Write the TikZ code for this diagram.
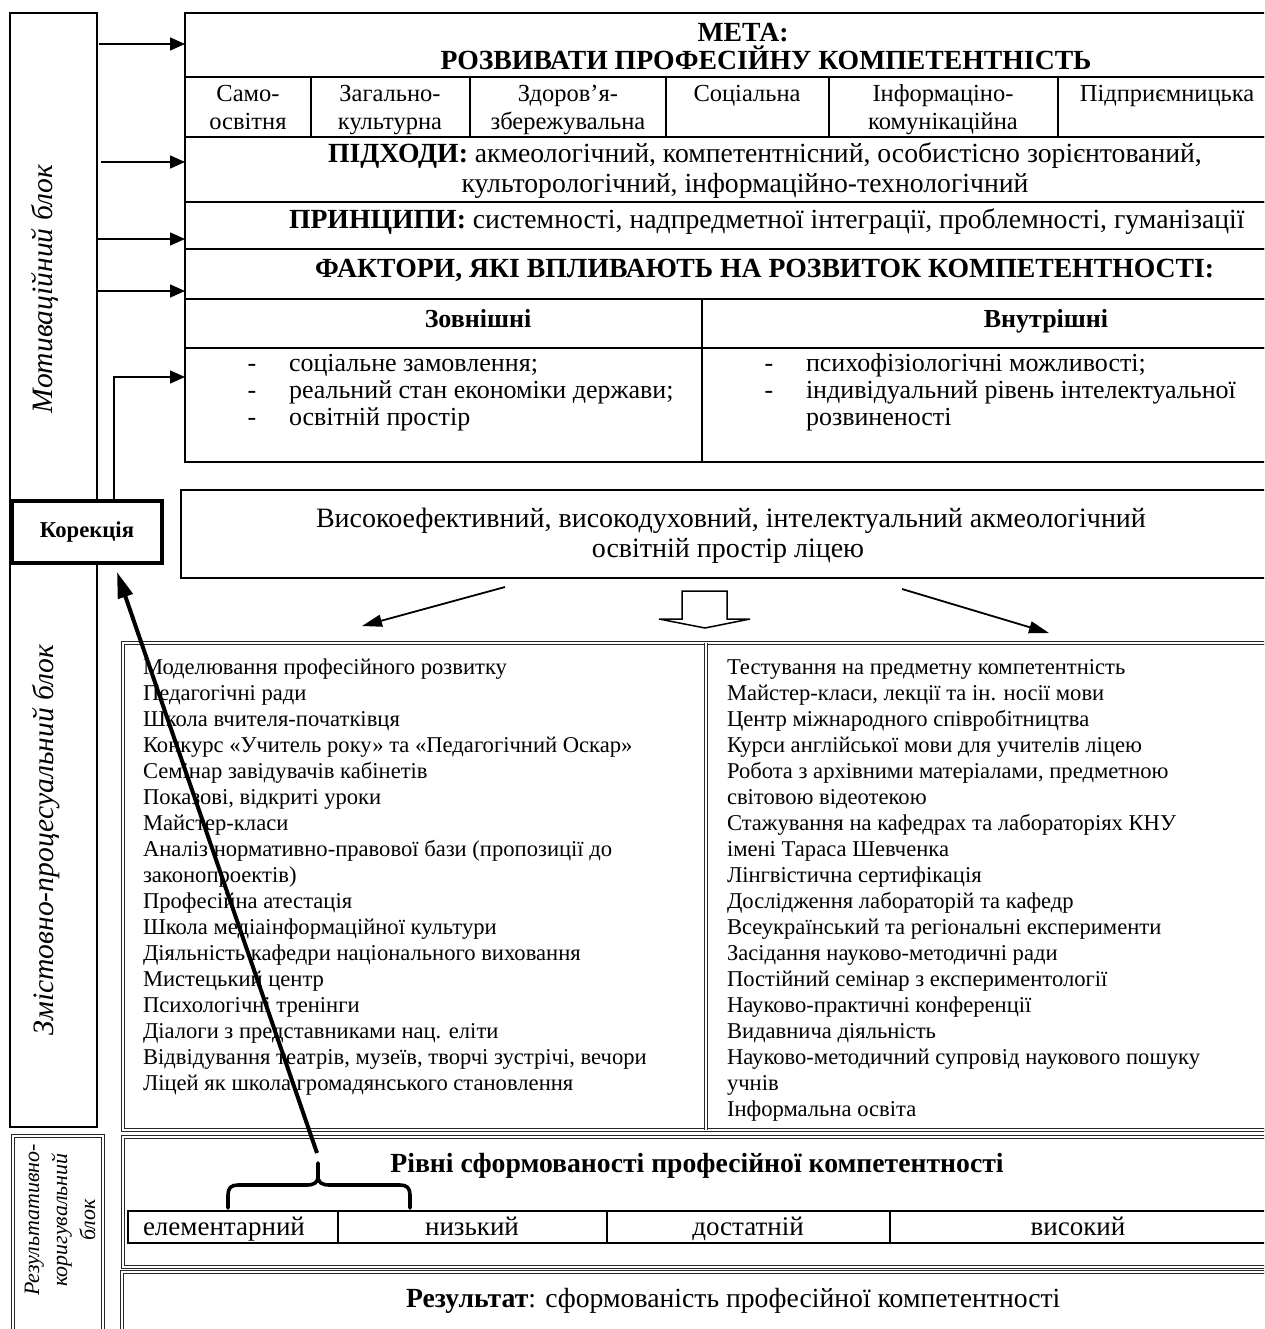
\documentclass[tikz,border=0pt]{standalone}
\usepackage{fontspec}
\setmainfont{Liberation Serif}
\usetikzlibrary{arrows.meta}
\newcommand\myfs[2]{\fontsize{#1}{#2}\selectfont}
\begin{document}
\begin{tikzpicture}[x=1pt,y=-1pt,
 bx/.style={draw=black, line width=2pt, inner sep=0pt, outer sep=0pt, anchor=north west},
 dbx/.style={draw=black!85, line width=0.9pt, double, double distance=1.3pt, inner sep=0pt, outer sep=0pt, anchor=north west},
 ln/.style={line width=2pt},
 dln/.style={draw=black!85, line width=0.9pt, double, double distance=1.3pt},
 arr/.style={line width=1.6pt, -{Triangle[length=15pt,width=13pt]}},
 darr/.style={line width=1.8pt, -{Triangle[length=20pt,width=12pt]}},
 barr/.style={line width=4pt, -{Triangle[length=26pt,width=15pt]}},
 txt/.style={inner sep=0pt, outer sep=0pt},
 cmp/.style={txt, font=\myfs{24.5}{28}, align=center, anchor=north},
 cmpone/.style={txt, font=\myfs{24.5}{28}, anchor=base},
 lst/.style={txt, font=\myfs{22.6}{26}, align=left, anchor=north west},
 fct/.style={txt, font=\myfs{26}{27}, align=left, anchor=north west},
 fdash/.style={txt, font=\myfs{26}{27}, align=center, anchor=north},
 lvl/.style={txt, font=\myfs{27}{30}, anchor=base},
 side/.style={txt, font=\itshape\myfs{29.6}{34}, rotate=90, anchor=base},
 head/.style={txt, font=\myfs{27.7}{30}},
 headb/.style={txt, font=\bfseries\myfs{27.7}{30}},
]
\useasboundingbox (0,0) rectangle (1264,1329);
\clip (0,0) rectangle (1264,1329);

% ---------- left blocks ----------
\node[bx, minimum width=87pt, minimum height=1114pt] (mot) at (10,13) {};
\node[dbx, minimum width=90pt, minimum height=250pt] (resl) at (13,1136) {};

% ---------- top table ----------
\node[bx, minimum width=1160pt, minimum height=64pt] (meta) at (185,13) {};
\node[bx, minimum width=1160pt, minimum height=60pt] (comp) at (185,77) {};
\node[bx, minimum width=1160pt, minimum height=65pt] (pidh) at (185,137) {};
\node[bx, minimum width=1160pt, minimum height=47pt] (princ) at (185,202) {};
\node[bx, minimum width=1160pt, minimum height=50pt] (fakt) at (185,249) {};
\node[bx, minimum width=1160pt, minimum height=49pt] (zh) at (185,299) {};
\node[bx, minimum width=1160pt, minimum height=114pt] (fl) at (185,348) {};
\foreach \x in {311,470,666,829,1058} \draw[ln] (\x,77) -- (\x,137);
\draw[ln] (702,299) -- (702,462);

% texts of top table
\node[headb, anchor=base] (tmeta) at (743,42) {МЕТА:};
\node[headb, anchor=base] (tgoal) at (766,70) {РОЗВИВАТИ ПРОФЕСІЙНУ КОМПЕТЕНТНІСТЬ};

\node[cmp] (c1) at (248,82.4) {\strut Само-\\освітня};
\node[cmp] (c2) at (390,82.4) {\strut Загально-\\культурна};
\node[cmp] (c3) at (568,82.4) {\strut Здоров’я-\\збережувальна};
\node[cmpone] (c4) at (747,102) {Соціальна};
\node[cmp] (c5) at (943,82.4) {\strut Інформаціно-\\комунікаційна};
\node[cmpone] (c6) at (1167,102) {Підприємницька};

\node[head, anchor=base west] (tp1) at (328,163) {\textbf{ПІДХОДИ:} акмеологічний, компетентнісний, особистісно зорієнтований,};
\node[head, anchor=base] (tp2) at (745,193) {культорологічний, інформаційно-технологічний};
\node[head, anchor=base west] (tpr) at (289,229) {\textbf{ПРИНЦИПИ:} системності, надпредметної інтеграції, проблемності, гуманізації};
\node[headb, anchor=base west] (tfk) at (315,278) {ФАКТОРИ, ЯКІ ВПЛИВАЮТЬ НА РОЗВИТОК КОМПЕТЕНТНОСТІ:};
\node[txt, anchor=base, font=\bfseries\myfs{26}{30}] (tzo) at (478,327) {Зовнішні};
\node[txt, anchor=base, font=\bfseries\myfs{26}{30}] (tvn) at (1046,327) {Внутрішні};

\node[fdash] (dl) at (252,352.1) {\strut -\\-\\-};
\node[fct] (fzl) at (289,352.1) {\strut соціальне замовлення;\\реальний стан економіки держави;\\освітній простір};
\node[fdash] (dr) at (769,352.1) {\strut -\\-};
\node[fct] (fvl) at (806,352.1) {\strut психофізіологічні можливості;\\індивідуальний рівень інтелектуальної\\розвиненості};

% ---------- space box ----------
\node[bx, minimum width=1094pt, minimum height=88pt] (vys) at (181,490) {};
\node[txt, anchor=base west, font=\myfs{28}{30}] (tv1) at (316,527) {Високоефективний, високодуховний, інтелектуальний акмеологічний};
\node[txt, anchor=base, font=\myfs{28}{30}] (tv2) at (728,557) {освітній простір ліцею};

% arrows out of space box
\coordinate (la0) at (505,587);
\coordinate (la1) at (362,626);
\coordinate (ra0) at (902,589);
\coordinate (ra1) at (1049,633);
\draw[darr] (la0) -- (la1);
\draw[darr] (ra0) -- (ra1);
\draw[line width=1.5pt, line join=miter, fill=white] (682,591) -- (727,591) -- (727,619) -- (750,619) -- (705,628) -- (659,619) -- (682,619) -- cycle;

% ---------- content box ----------
\node[dbx, minimum width=1222pt, minimum height=487pt] (cont) at (123,643) {};
\draw[dln] (706,643) -- (706,1130);
\node[lst] (ll) at (143,655.8) {\strut Моделювання професійного розвитку\\
Педагогічні ради\\
Школа вчителя-початківця\\
Конкурс «Учитель року» та «Педагогічний Оскар»\\
Семінар завідувачів кабінетів\\
Показові, відкриті уроки\\
Майстер-класи\\
Аналіз нормативно-правової бази (пропозиції до\\
законопроектів)\\
Професійна атестація\\
Школа медіаінформаційної культури\\
Діяльність кафедри національного виховання\\
Мистецький центр\\
Психологічні тренінги\\
Діалоги з представниками нац. еліти\\
Відвідування театрів, музеїв, творчі зустрічі, вечори\\
Ліцей як школа громадянського становлення};
\node[lst] (lr) at (727,655.8) {\strut Тестування на предметну компетентність\\
Майстер-класи, лекції та ін. носії мови\\
Центр міжнародного співробітництва\\
Курси англійської мови для учителів ліцею\\
Робота з архівними матеріалами, предметною\\
світовою відеотекою\\
Стажування на кафедрах та лабораторіях КНУ\\
імені Тараса Шевченка\\
Лінгвістична сертифікація\\
Дослідження лабораторій та кафедр\\
Всеукраїнський та регіональні експерименти\\
Засідання науково-методичні ради\\
Постійний семінар з експериментології\\
Науково-практичні конференції\\
Видавнича діяльність\\
Науково-методичний супровід наукового пошуку\\
учнів\\
Інформальна освіта};

% ---------- levels ----------
\node[dbx, minimum width=1222pt, minimum height=130pt] (rivni) at (123,1137) {};
\node[headb, anchor=base] (trv) at (697,1172) {Рівні сформованості професійної компетентності};
\node[bx, minimum width=1142pt, minimum height=32pt] (lev) at (128,1211) {};
\foreach \x in {338,607,890} \draw[ln] (\x,1211) -- (\x,1243);
\node[lvl, anchor=base west] (lv1) at (143,1235) {елементарний};
\node[lvl] (lv2) at (472,1235) {низький};
\node[lvl] (lv3) at (748,1235) {достатній};
\node[lvl] (lv4) at (1078,1235) {високий};

\node[dbx, minimum width=1223pt, minimum height=100pt] (res) at (122,1272) {};
\node[head, anchor=base west] (tres) at (406,1307) {\textbf{Результат}: сформованість професійної компетентності};

% brace
\draw[line width=3.6pt, line cap=round, line join=round] (228,1208) -- (228,1195) .. controls (228,1188) and (231,1185) .. (238,1185) -- (306,1185) .. controls (314,1185) and (318,1183) .. (318,1176) -- (318,1163);
\draw[line width=3.6pt, line cap=round, line join=round] (318,1176) .. controls (318,1183) and (322,1185) .. (330,1185) -- (400,1185) .. controls (407,1185) and (410,1188) .. (410,1195) -- (410,1208);

% side labels
\node[side] (lmot) at (52,289) {Мотиваційний блок};
\node[side] (lzm) at (53,840) {Змістовно-процесуальний блок};
\node[txt, rotate=90, align=center, font=\itshape\myfs{22}{28}] (lres) at (60,1220) {Результативно-\\коригувальний\\блок};

% Correction box
\node[bx, line width=4pt, fill=white, minimum width=150pt, minimum height=62pt, font=\bfseries\myfs{22.7}{26}] (kor) at (12,501) {Корекція};

% arrows from the left block
\coordinate (m1) at (99,44);
\coordinate (m2) at (101,162);
\coordinate (m3) at (97,239);
\coordinate (m4) at (97,291);
\draw[arr] (m1) -- (m1 -| meta.west);
\draw[arr] (m2) -- (m2 -| pidh.west);
\draw[arr] (m3) -- (m3 -| princ.west);
\draw[arr] (m4) -- (m4 -| fakt.west);
\coordinate (k5) at (114,499);
\coordinate (f5) at (185,377);
\draw[arr] (k5) |- (f5);

% long arrow from the brace to Корекція
\coordinate (brtip) at (317,1153);
\coordinate (kortip) at (117,572);
\draw[barr] (brtip) -- (kortip);
\end{tikzpicture}
\end{document}
